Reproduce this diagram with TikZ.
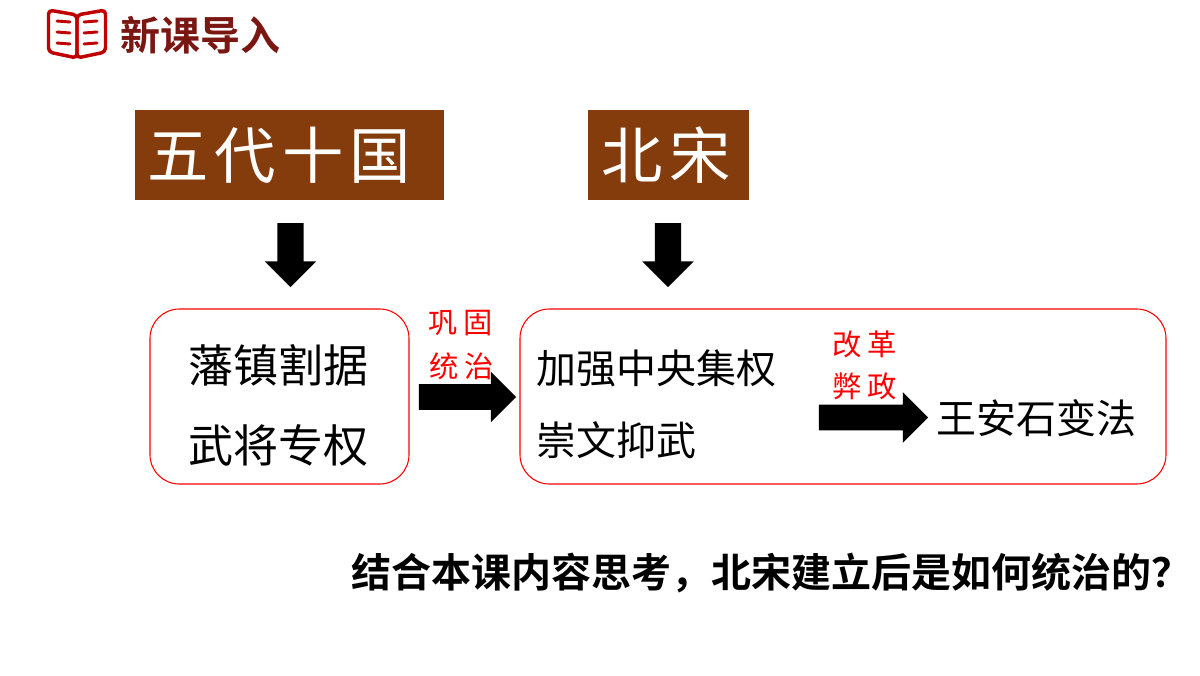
\documentclass[tikz,border=0pt]{standalone}
\usepackage{fontspec}
\usetikzlibrary{shapes.arrows}
\newfontfamily\cjk{Noto Sans CJK SC}
\newfontfamily\cjkb{Noto Sans CJK SC Bold}
\newfontfamily\cjkwide[LetterSpace=10]{Noto Sans CJK SC}
\newfontfamily\cjkred[LetterSpace=20]{Noto Sans CJK SC}
\definecolor{brownbox}{HTML}{843C0C}
\definecolor{titlered}{HTML}{7A1712}
\definecolor{iconred}{HTML}{C00000}
\tikzset{
  headbox/.style={text=white, inner sep=0pt, font=\cjkwide\fontsize{46}{52}\selectfont},
  groupbox/.style={draw=red, fill=white, rounded corners=22pt, line width=0.8pt},
  blockarrow/.style={single arrow, fill=black, inner sep=9.5pt, single arrow head indent=0pt, single arrow head extend=9.25pt},
  bodytext/.style={inner sep=0pt, font=\cjk\fontsize{30}{36}\selectfont},
  bigtext/.style={inner sep=0pt, font=\cjk\fontsize{33.75}{40}\selectfont},
  redtext/.style={inner sep=0pt, text=red, font=\cjkred\fontsize{22}{26}\selectfont},
  bookpage/.style={iconred, line width=2.6pt, rounded corners=3pt, line join=round},
  bookline/.style={iconred, line width=2.2pt, line cap=round},
}
\begin{document}
\begin{tikzpicture}[x=0.75pt, y=-0.75pt]
\useasboundingbox (0,0) rectangle (1200,675);

% book icon and heading
\draw[bookpage] (48.5,10) -- (77,15) -- (77,58) -- (48.5,52) -- cycle;
\draw[bookpage] (105.5,10) -- (77,15) -- (77,58) -- (105.5,52) -- cycle;
\foreach \y in {21,32,43} {
  \draw[bookline] (57,\y) -- (70,\y+1);
  \draw[bookline] (84,\y+1) -- (97,\y);
}
\node[inner sep=0pt, text=titlered, font=\cjkb\fontsize{30}{36}\selectfont] (heading) at (200.5,35) {新课导入};

% top boxes
\fill[brownbox] (135,110) rectangle (444,200);
\fill[brownbox] (588,110) rectangle (749,200);
\node[headbox] (wudai) at (279,155) {五代十国};
\node[headbox] (beisong) at (666,155) {北宋};

\node[blockarrow, shape border rotate=270, minimum height=48pt, minimum width=38.5pt] (downa) at (290.5,248.5) {};
\node[blockarrow, shape border rotate=270, minimum height=48pt, minimum width=38.5pt] (downb) at (668,248.5) {};

% rounded boxes
\draw[groupbox] (150,309) rectangle (409,484);
\draw[groupbox] (520,309) rectangle (1166,484);

\node[bigtext] (fanzhen) at (278,365.5) {藩镇割据};
\node[bigtext] (wujiang) at (278,445) {武将专权};
\node[bodytext] (jiaqiang) at (656,368) {加强中央集权};
\node[bodytext] (chongwen) at (616,440) {崇文抑武};
\node[bodytext] (wanganshi) at (1036,418.5) {王安石变法};

\node[blockarrow, minimum height=73pt, minimum width=38pt] (arrowa) at (461,397) {};
\node[blockarrow, minimum height=82pt, minimum width=38pt] (arrowb) at (867,417.5) {};

\node[redtext] (gonggu) at (460.5,323) {巩固};
\node[redtext] (tongzhi) at (462,366) {统治};
\node[redtext] (gaige) at (865,344) {改革};
\node[redtext] (bizheng) at (865,386) {弊政};

\node[inner sep=0pt, font=\cjkb\fontsize{30}{36}\selectfont] (question) at (771,573) {结合本课内容思考，北宋建立后是如何统治的？};
\end{tikzpicture}
\end{document}
